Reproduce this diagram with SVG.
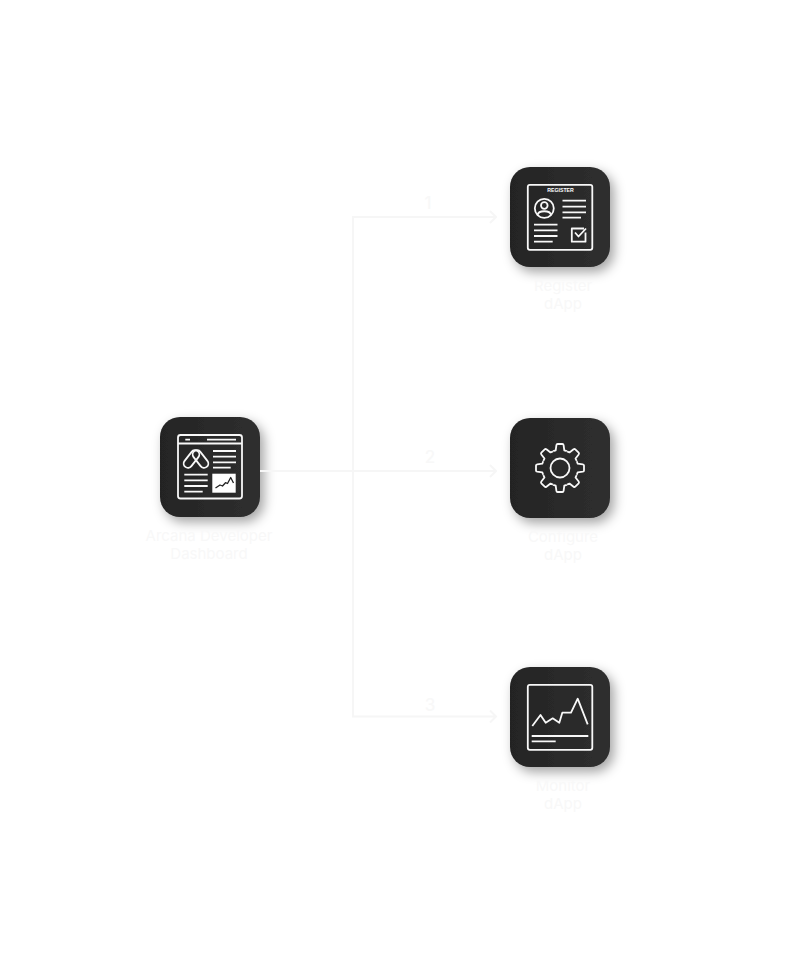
<svg xmlns="http://www.w3.org/2000/svg" xmlns:xlink="http://www.w3.org/1999/xlink" width="789" height="979" viewBox="0 0 789 979">
<style>
.card{fill:url(#cardFill);filter:url(#cardShadow)}
.ic{fill:none;stroke:#f8f8f8;stroke-width:1.8;stroke-linecap:butt;stroke-linejoin:round}
.dark{fill:none;stroke:#222;stroke-width:1.3;stroke-linejoin:round}
.lab{font-family:Inter,sans-serif;font-size:15px;fill:#f8f8f8;text-anchor:middle}
.num{font-family:Inter,sans-serif;font-size:17px;fill:#f8f8f8;text-anchor:middle;font-weight:500}
.conn{fill:none;stroke:#f6f6f6;stroke-width:2}
</style>
<defs>
<linearGradient id="cardFill" x1="0" y1="0" x2="1" y2="0"><stop offset="0" stop-color="#242424"/><stop offset="1" stop-color="#2f2f2f"/></linearGradient>
<filter id="cardShadow" x="-30%" y="-30%" width="170%" height="170%"><feDropShadow dx="4" dy="5" stdDeviation="6" flood-color="#000" flood-opacity=".36"/></filter>
<path id="tooth" d="M-6.800-16.800-4.300-17.700-3.600-22.800Q-3.400-24-2.400-24H2.400Q3.400-24 3.600-22.800L4.300-17.700 6.800-16.800"/>
</defs>
<rect width="789" height="979" fill="#fff"/>
<g id="node-dashboard">
<rect class="card" x="160" y="417" width="100" height="100" rx="20"/>
<g class="ic">
<rect x="178" y="435" width="64" height="63.500" rx="2.500"/>
<path d="M178 443.500H242M185.300 439.700H190M207 439.700H236M213 451H236M213 456.700H236M213 462.300H236M213 467.700H230.700M184.300 474.700H207.700M184.300 480.300H207.700M184.300 486H207.700M184.300 491.700H202.700"/>
<rect x="-4.300" y="-10" width="8.600" height="20" rx="4.300" transform="translate(191.500 459) rotate(38)"/>
<rect x="-4.300" y="-10" width="8.600" height="20" rx="4.300" transform="translate(200.500 459) rotate(-38)"/>
</g>
<rect x="212.300" y="473.700" width="23.400" height="19" fill="#fff"/>
<path class="dark" d="M215.500 488 220 485 222.500 486 225.500 482.700 227.500 483.500 230.700 477.500 233.500 483"/>
<text class="lab" x="209" y="541">Arcana Developer</text>
<text class="lab" x="209" y="559">Dashboard</text>
</g>
<g id="node-register">
<rect class="card" x="510" y="167" width="100" height="100" rx="20"/>
<g class="ic">
<rect x="527.800" y="184.800" width="64.500" height="65" rx="2"/>
<circle cx="544.300" cy="208.300" r="9.500"/>
<circle cx="544.300" cy="205.500" r="3.300"/>
<path d="M537.500 215c1-5 12.500-5 13.600 0M562.500 200.700H586M562.500 206.700H586M562.500 212.300H586M562.500 217.700H581M534 224.700H557.500M534 230.300H557.500M534 236H557.500M534 241.700H552.700M584 228.500H571.800V241.700H585.500V232.500M575 232.500 578.500 236.500 586 228.500"/>
</g>
<text x="560.500" y="191.700" font-family="Liberation Sans,sans-serif" font-size="5.200" font-weight="700" fill="#fff" text-anchor="middle">REGISTER</text>
<text class="lab" x="563" y="291">Register</text>
<text class="lab" x="563" y="309">dApp</text>
</g>
<g id="node-configure">
<rect class="card" x="510" y="418" width="100" height="100" rx="20"/>
<g class="ic" transform="translate(560 468)">
<use xlink:href="#tooth"/>
<use xlink:href="#tooth" transform="rotate(45)"/>
<use xlink:href="#tooth" transform="rotate(90)"/>
<use xlink:href="#tooth" transform="rotate(135)"/>
<use xlink:href="#tooth" transform="rotate(180)"/>
<use xlink:href="#tooth" transform="rotate(225)"/>
<use xlink:href="#tooth" transform="rotate(270)"/>
<use xlink:href="#tooth" transform="rotate(315)"/>
<circle r="9.500"/>
</g>
<text class="lab" x="563" y="542">Configure</text>
<text class="lab" x="563" y="560">dApp</text>
</g>
<g id="node-monitor">
<rect class="card" x="510" y="667" width="100" height="100" rx="20"/>
<g class="ic">
<rect x="527.800" y="684.800" width="64.500" height="65" rx="2"/>
<path d="M532.300 726 540.500 715 545.700 722.700 552.700 718.300 559.300 722.700 562.300 712.700H571L577.700 698.700 587.700 724.300M531.700 736H588.300M531.700 741.300H555.700"/>
</g>
<text class="lab" x="563" y="791">Monitor</text>
<text class="lab" x="563" y="809">dApp</text>
</g>
<g id="connectors">
<path class="conn" d="M260 471H495M490 465 496 471 490 477"/>
<path class="conn" d="M353 471V217H495M490 211 496 217 490 223"/>
<path class="conn" d="M353 471V716.500H495M490 710.500 496 716.500 490 722.500"/>
<text class="num" x="428" y="209">1</text>
<text class="num" x="430" y="463">2</text>
<text class="num" x="430" y="711">3</text>
</g>
</svg>
